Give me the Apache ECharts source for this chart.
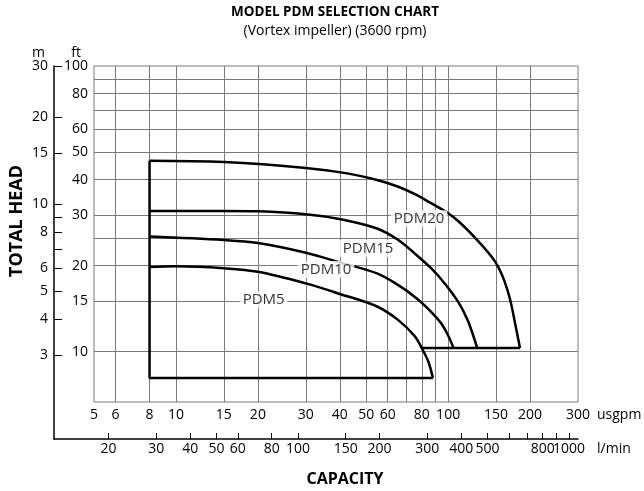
<!DOCTYPE html>
<html>
<head>
<meta charset="utf-8">
<title>Model PDM selection chart</title>
<script src="https://cdn.jsdelivr.net/npm/echarts@6.0.0/dist/echarts.min.js"></script>
<style>
  html, body { margin: 0; padding: 0; background: #fff; }
  #chart { width: 644px; height: 491px; }
</style>
</head>
<body>
<div id="chart"></div>
<script>
// tick / label values
const usgpmLabels = [5, 6, 8, 10, 15, 20, 30, 40, 50, 60, 80, 100, 150, 200, 300];
const usgpmGrid = [6, 8, 10, 15, 20, 30, 40, 50, 60, 70, 80, 90, 100, 150, 200];
const lminLabels = [20, 30, 40, 50, 60, 80, 100, 150, 200, 300, 400, 500, 800, 1000, 1079];
const lminTicks = [20, 30, 40, 50, 60, 80, 100, 150, 200, 300, 400, 500, 600, 700, 800, 900, 1000, 1079];
const ftLabels = [10, 15, 20, 30, 40, 50, 60, 80, 100];
const ftGrid = [10, 15, 20, 25, 30, 40, 50, 60, 70, 80, 90];
const mLabels = [3, 4, 5, 6, 8, 10, 15, 20, 30];
const mTicks = [3, 4, 5, 6, 7, 8, 9, 10, 15, 20, 30];

// curves: [usgpm, ft]
const pdm20 = [[8, 46.6], [15, 46.1], [30, 44.0], [42.5, 42.1], [54.8, 39.9], [65.6, 37.8], [76.5, 35.4], [86.6, 33.1], [98.3, 30.9], [109.6, 28.5], [127.9, 24.6], [144.5, 21.5], [153.2, 19.7], [161.3, 17.6], [169, 15.2], [176.7, 12.4], [181.2, 11.0], [183.6, 10.3]];
const pdm15 = [[8, 31.1], [15, 31.1], [20, 31.0], [30, 30.3], [40.3, 29.1], [54.8, 27.0], [65.6, 24.6], [76.5, 21.8], [86.6, 19.6], [98.3, 17.1], [109.6, 14.8], [118, 12.9], [123.6, 11.4], [127.9, 10.3]];
const pdm10 = [[8, 25.3], [15, 24.6], [20, 24.0], [30, 22.2], [40.3, 20.5], [54.8, 18.8], [65.6, 17.1], [76.5, 15.4], [86.6, 13.8], [94.1, 12.6], [100, 11.4], [104.7, 10.3]];
const pdm5 = [[8, 19.8], [10, 19.9], [15, 19.6], [20, 19.05], [30, 17.35], [40.3, 15.9], [54.8, 14.4], [65.6, 12.9], [75.6, 11.3], [80, 10.3], [84.6, 9.23], [87.9, 8.1]];
const outline = [[87.9, 8.1], [8, 8.1], [8, 46.6]];
const line10 = [[80, 10.3], [183.6, 10.3]];

const modelNames = ['PDM20', 'PDM15', 'PDM10', 'PDM5'];
const modelLabelAt = [[78.2, 29.2], [50.8, 23.0], [35.6, 19.4], [21.0, 15.2]];

const FONT = "'Open Sans', sans-serif";
const gridColor = '#7a7a7a';

const chart = echarts.init(document.getElementById('chart'));

function curve(name, data, smooth) {
  return {
    name: name,
    type: 'line',
    xAxisIndex: 0,
    yAxisIndex: 0,
    data: data,
    showSymbol: false,
    smooth: smooth,
    lineStyle: { color: '#000', width: 2.5 },
    z: 2
  }
}

const plain = v => String(Math.round(v));
// last l/min entry only marks the end of the scale
const lminFmt = v => (v > 1000 ? '' : String(Math.round(v)));

const tickText = { fontFamily: FONT, fontSize: 14, color: '#000' };

chart.setOption({
  animation: false,
  backgroundColor: '#fff',
  title: [{
    text: 'MODEL PDM SELECTION CHART',
    subtext: '(Vortex impeller) (3600 rpm)',
    left: 330,
    textAlign: 'center',
    top: 0,
    itemGap: 5,
    textStyle: { fontFamily: FONT, fontWeight: 'bold', fontSize: 13.5, color: '#000' },
    subtextStyle: { fontFamily: FONT, fontSize: 14, color: '#000' }
  }, {
    text: 'CAPACITY',
    left: 345,
    textAlign: 'center',
    top: 471,
    padding: 0,
    textStyle: { fontFamily: FONT, fontWeight: 'bold', fontSize: 16, color: '#000' }
  }],
  graphic: [{
    type: 'text',
    x: 17,
    y: 221,
    rotation: Math.PI / 2,
    style: {
      text: 'TOTAL HEAD',
      fill: '#000',
      font: "bold 18px 'Open Sans', sans-serif",
      textAlign: 'center',
      textVerticalAlign: 'middle'
    }
  }],
  grid: [
    { left: 94, right: 66, top: 66, bottom: 89, show: true, borderColor: gridColor, borderWidth: 1, outerBoundsMode: 'none' },
    { left: 54, right: 66, top: 66, bottom: 52, outerBoundsMode: 'none' }
  ],
  xAxis: [{
    gridIndex: 0,
    type: 'log',
    min: 5,
    max: 300,
    name: 'usgpm',
    nameLocation: 'end',
    nameGap: 19,
    nameMoveOverlap: false,
    nameTextStyle: Object.assign({ verticalAlign: 'top', padding: [6, 0, 0, 0] }, tickText),
    axisLine: { show: false },
    axisTick: { show: false, customValues: usgpmGrid },
    axisLabel: Object.assign({ customValues: usgpmLabels, formatter: plain, margin: 6, hideOverlap: false, showMinLabel: true, showMaxLabel: true }, tickText),
    splitLine: { show: true, lineStyle: { color: gridColor, width: 1 } },
    minorTick: { show: false },
    minorSplitLine: { show: false }
  }, {
    gridIndex: 1,
    type: 'log',
    min: 12.58,
    max: 1079.5,
    position: 'bottom',
    name: 'l/min',
    nameLocation: 'end',
    nameGap: 19,
    nameMoveOverlap: false,
    nameTextStyle: Object.assign({ verticalAlign: 'top', padding: [3, 0, 0, 0] }, tickText),
    axisLine: { show: true, lineStyle: { color: '#000', width: 1.5 } },
    axisTick: { show: true, inside: true, length: 6, customValues: lminTicks, lineStyle: { color: '#000', width: 1 } },
    axisLabel: Object.assign({ customValues: lminLabels, formatter: lminFmt, margin: 3, hideOverlap: false, showMinLabel: true, showMaxLabel: false }, tickText),
    splitLine: { show: false }
  }],
  yAxis: [{
    gridIndex: 0,
    type: 'log',
    min: 6.67,
    max: 100,
    name: 'ft',
    nameLocation: 'end',
    nameGap: 6,
    nameMoveOverlap: false,
    nameTextStyle: Object.assign({ align: 'right', padding: [0, 13, 0, 0] }, tickText),
    axisLine: { show: false },
    axisTick: { show: false, customValues: ftGrid },
    axisLabel: Object.assign({ customValues: ftLabels, formatter: plain, margin: 6, hideOverlap: false, showMinLabel: true, showMaxLabel: true }, tickText),
    splitLine: { show: true, lineStyle: { color: gridColor, width: 1 } }
  }, {
    gridIndex: 1,
    type: 'log',
    min: 1.541,
    max: 30.1,
    name: 'm',
    nameLocation: 'end',
    nameGap: 6,
    nameMoveOverlap: false,
    nameTextStyle: Object.assign({ align: 'right', padding: [0, 9, 0, 0] }, tickText),
    axisLine: { show: true, lineStyle: { color: '#000', width: 1.5 } },
    axisTick: { show: true, inside: true, length: 8, customValues: mTicks, lineStyle: { color: '#000', width: 1 } },
    axisLabel: Object.assign({ customValues: mLabels, formatter: plain, margin: 6, hideOverlap: false, showMinLabel: true, showMaxLabel: true }, tickText),
    splitLine: { show: false }
  }],
  series: [
    curve('PDM20', pdm20, 0.35),
    curve('PDM15', pdm15, 0.35),
    curve('PDM10', pdm10, 0.35),
    curve('PDM5', pdm5, 0.35),
    curve('outline', outline, false),
    curve('10 ft line', line10, false),
    {
      name: 'labels',
      type: 'scatter',
      xAxisIndex: 0,
      yAxisIndex: 0,
      symbolSize: 0,
      z: 3,
      data: modelNames.map((n, i) => ({ name: n, value: modelLabelAt[i] })),
      label: {
        show: true,
        position: 'inside',
        formatter: '{b}',
        fontFamily: FONT,
        fontSize: 15,
        color: '#000',
        backgroundColor: '#fff',
        padding: [1, 3]
      }
    }
  ]
});
</script>
</body>
</html>
